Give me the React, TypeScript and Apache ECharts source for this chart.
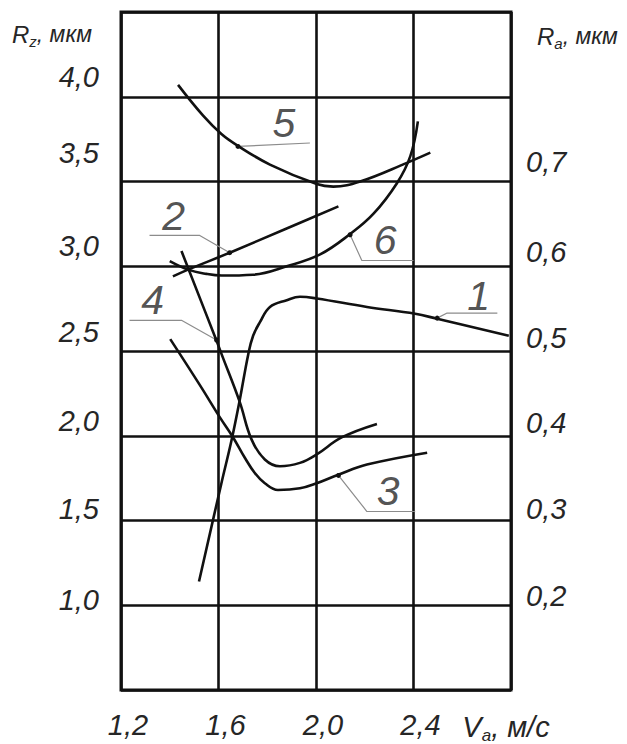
import { useEffect, useRef } from "react";
import * as echarts from "echarts";

// ---- axes ----
const X_MIN = 1.2;
const X_MAX = 2.8;
const X_STEP = 0.4;
const X_TICK_VALUES = [1.2, 1.6, 2.0, 2.4, 2.8];
const X_TICK_LABELS = ["1,2", "1,6", "2,0", "2,4", "V"];
const Y_MIN = 0.5;
const Y_MAX = 4.5;
const Y_STEP = 0.5;
const RZ_TICK_VALUES = [1.0, 1.5, 2.0, 2.5, 3.0, 3.5, 4.0];
const RZ_TICK_LABELS = ["1,0", "1,5", "2,0", "2,5", "3,0", "3,5", "4,0"];
const RA_MIN = 0.1;
const RA_MAX = 0.9;
const RA_STEP = 0.1;
const RA_TICK_VALUES = [0.2, 0.3, 0.4, 0.5, 0.6, 0.7];
const RA_TICK_LABELS = ["0,2", "0,3", "0,4", "0,5", "0,6", "0,7"];

// ---- curves (V_a, м/с ; R_z, мкм) ----
const CURVE_1_X = [1.52, 1.612, 1.653, 1.687, 1.722, 1.742, 1.77, 1.811, 1.88, 1.934, 2.003, 2.209, 2.407, 2.497, 2.791];
const CURVE_1_Y = [1.14, 1.72, 1.97, 2.21, 2.48, 2.59, 2.67, 2.76, 2.8, 2.82, 2.81, 2.76, 2.72, 2.69, 2.59];
const CURVE_2_X = [1.413, 1.475, 1.646, 1.87, 2.092];
const CURVE_2_Y = [2.94, 2.98, 3.08, 3.217, 3.353];
const CURVE_3_X = [1.402, 1.523, 1.605, 1.66, 1.708, 1.749, 1.79, 1.844, 1.934, 2.003, 2.091, 2.209, 2.456];
const CURVE_3_Y = [2.57, 2.3, 2.11, 1.99, 1.87, 1.78, 1.72, 1.68, 1.69, 1.72, 1.77, 1.83, 1.9];
const CURVE_4_X = [1.448, 1.592, 1.613, 1.687, 1.735, 1.79, 1.852, 1.934, 2.003, 2.105, 2.25];
const CURVE_4_Y = [3.09, 2.56, 2.48, 2.2, 1.98, 1.86, 1.82, 1.84, 1.89, 1.99, 2.07];
const CURVE_5_X = [1.434, 1.536, 1.612, 1.68, 1.811, 2.003, 2.071, 2.181, 2.373, 2.469];
const CURVE_5_Y = [4.07, 3.89, 3.78, 3.71, 3.6, 3.485, 3.47, 3.5, 3.61, 3.67];
const CURVE_6_X = [1.4, 1.475, 1.55, 1.613, 1.742, 1.88, 2.017, 2.14, 2.236, 2.332, 2.387, 2.418];
const CURVE_6_Y = [3.03, 2.98, 2.955, 2.945, 2.95, 3.0, 3.07, 3.19, 3.31, 3.49, 3.65, 3.855];

// ---- leader lines and curve numbers ----
const CURVE_NAMES = ["1", "2", "3", "4", "5", "6"];
const LEADER_1 = [[2.497, 2.694], [2.538, 2.724], [2.744, 2.724]];
const LEADER_2 = [[1.646, 3.08], [1.523, 3.182], [1.317, 3.182]];
const LEADER_3 = [[2.092, 1.766], [2.209, 1.553], [2.407, 1.553]];
const LEADER_4 = [[1.592, 2.565], [1.448, 2.681], [1.235, 2.681]];
const LEADER_5 = [[1.68, 3.707], [1.975, 3.727]];
const LEADER_6 = [[2.14, 3.186], [2.188, 3.034], [2.4, 3.034]];
const NUMBER_POS = [
  [2.667, 2.826],
  [1.416, 3.298],
  [2.296, 1.675],
  [1.33, 2.802],
  [1.868, 3.847],
  [2.284, 3.156],
];

// tick-label lift above their grid lines (px), as in the scanned figure
const RZ_LABEL_LIFT = [5, 12, 15, 19, 20, 29, 20];
const RA_LABEL_LIFT = [9, 12, 13, 13, 14, 20];

const FONT = "'Liberation Sans', Arial, sans-serif";
const INK = "#111";
const TEXT = "#262626";

const zip = (xs: number[], ys: number[]) => xs.map((x, i) => [x, ys[i]]);
const findIndex = (vals: number[], v: number) => vals.findIndex((t) => Math.abs(t - v) < 1e-6);

export default function App() {
  const ref = useRef<HTMLDivElement>(null);
  useEffect(() => {
    if (!ref.current) return;
    const chart = echarts.init(ref.current, undefined, { renderer: "svg" });
    const curves = [
      zip(CURVE_1_X, CURVE_1_Y),
      zip(CURVE_2_X, CURVE_2_Y),
      zip(CURVE_3_X, CURVE_3_Y),
      zip(CURVE_4_X, CURVE_4_Y),
      zip(CURVE_5_X, CURVE_5_Y),
      zip(CURVE_6_X, CURVE_6_Y),
    ];
    const leaders = [LEADER_1, LEADER_2, LEADER_3, LEADER_4, LEADER_5, LEADER_6];
    const labelBase = {
      fontFamily: FONT,
      fontStyle: "italic" as const,
      fontSize: 29,
      color: TEXT,
    };
    const series: any[] = [];
    curves.forEach((d, i) => {
      series.push({
        type: "line",
        name: "curve " + CURVE_NAMES[i],
        data: d,
        smooth: 0.4,
        showSymbol: false,
        symbol: "none",
        lineStyle: { color: INK, width: 2.6 },
        z: 3,
      });
    });
    leaders.forEach((d, i) => {
      series.push({
        type: "line",
        name: "leader " + CURVE_NAMES[i],
        data: d.map((p, j) =>
          j === 0
            ? { value: p, symbol: "circle", symbolSize: 5, itemStyle: { color: INK } }
            : { value: p, symbol: "none" }
        ),
        showSymbol: true,
        symbol: "none",
        lineStyle: { color: "#8c8c8c", width: 1.2 },
        z: 2,
      });
    });
    series.push({
      type: "scatter",
      name: "numbers",
      data: NUMBER_POS.map((p, i) => ({ value: p, name: CURVE_NAMES[i] })),
      symbolSize: 1,
      itemStyle: { color: "rgba(0,0,0,0)" },
      label: {
        show: true,
        position: "inside",
        formatter: "{b}",
        fontFamily: FONT,
        fontStyle: "italic",
        fontSize: 41,
        color: TEXT,
      },
      z: 4,
    });

    const rzRich: Record<string, any> = {};
    RZ_LABEL_LIFT.forEach((h, i) => {
      rzRich["t" + i] = { ...labelBase, lineHeight: h * 2, verticalAlign: "middle" };
    });
    const raRich: Record<string, any> = {};
    RA_LABEL_LIFT.forEach((h, i) => {
      raRich["t" + i] = { ...labelBase, lineHeight: h * 2, verticalAlign: "middle" };
    });

    chart.setOption({
      animation: false,
      backgroundColor: "#fff",
      grid: {
        left: 121,
        top: 12,
        width: 390,
        height: 678,
        show: true,
        borderColor: INK,
        borderWidth: 3,
        backgroundColor: "transparent",
      },
      xAxis: {
        type: "value",
        min: X_MIN,
        max: X_MAX,
        interval: X_STEP,
        axisLine: { show: false },
        axisTick: { show: false },
        splitLine: { show: true, lineStyle: { color: INK, width: 2.6 } },
        axisLabel: {
          ...labelBase,
          margin: 20,
          formatter: (v: number) => {
            const i = findIndex(X_TICK_VALUES, v);
            if (i < 0) return "";
            const s = X_TICK_LABELS[i];
            if (s === "V") return "{v|V}{s|a}{u|, м/с}";
            return "{n|" + s + "}";
          },
          rich: {
            n: { ...labelBase, padding: [0, 0, 0, 14] },
            v: { ...labelBase, lineHeight: 34, verticalAlign: "middle" },
            s: { ...labelBase, fontSize: 17, lineHeight: 14, verticalAlign: "bottom" },
            u: { ...labelBase, lineHeight: 34, verticalAlign: "middle", padding: [0, 10, 0, 0] },
          },
        },
      },
      yAxis: [
        {
          type: "value",
          min: Y_MIN,
          max: Y_MAX,
          interval: Y_STEP,
          position: "left",
          axisLine: { show: false },
          axisTick: { show: false },
          splitLine: { show: true, lineStyle: { color: INK, width: 2.6 } },
          axisLabel: {
            ...labelBase,
            margin: 22,
            verticalAlign: "bottom",
            formatter: (v: number) => {
              const i = findIndex(RZ_TICK_VALUES, v);
              return i < 0 ? "" : "{t" + i + "|" + RZ_TICK_LABELS[i] + "}";
            },
            rich: rzRich,
          },
        },
        {
          type: "value",
          min: RA_MIN,
          max: RA_MAX,
          interval: RA_STEP,
          position: "right",
          axisLine: { show: false },
          axisTick: { show: false },
          splitLine: { show: false },
          axisLabel: {
            ...labelBase,
            margin: 15,
            verticalAlign: "bottom",
            formatter: (v: number) => {
              const i = findIndex(RA_TICK_VALUES, v);
              return i < 0 ? "" : "{t" + i + "|" + RA_TICK_LABELS[i] + "}";
            },
            rich: raRich,
          },
        },
      ],
      graphic: [
        {
          type: "text",
          left: 12,
          top: 22,
          style: {
            text: "{r|R}{s|z}{m|, мкм}",
            rich: {
              r: { fontFamily: FONT, fontStyle: "italic", fontSize: 24, fill: TEXT, lineHeight: 30, verticalAlign: "middle" },
              s: { fontFamily: FONT, fontStyle: "italic", fontSize: 15, fill: TEXT, lineHeight: 12, verticalAlign: "bottom" },
              m: { fontFamily: FONT, fontStyle: "italic", fontSize: 23, fill: TEXT, lineHeight: 30, verticalAlign: "middle" },
            },
          },
        },
        {
          type: "text",
          left: 537,
          top: 24,
          style: {
            text: "{r|R}{s|a}{m|, мкм}",
            rich: {
              r: { fontFamily: FONT, fontStyle: "italic", fontSize: 24, fill: TEXT, lineHeight: 30, verticalAlign: "middle" },
              s: { fontFamily: FONT, fontStyle: "italic", fontSize: 15, fill: TEXT, lineHeight: 12, verticalAlign: "bottom" },
              m: { fontFamily: FONT, fontStyle: "italic", fontSize: 23, fill: TEXT, lineHeight: 30, verticalAlign: "middle" },
            },
          },
        },
      ],
      series,
    });
    return () => chart.dispose();
  }, []);
  return (
    <div
      ref={ref}
      style={{ position: "fixed", left: 0, top: 0, width: 627, height: 744, background: "#fff" }}
    />
  );
}
